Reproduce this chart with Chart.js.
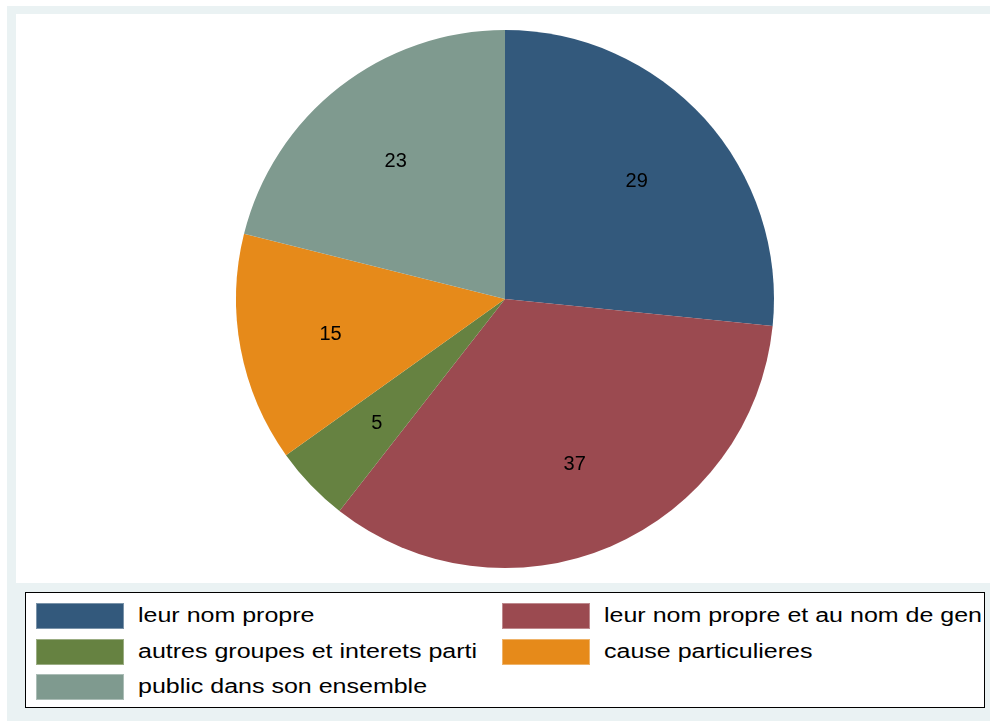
<!DOCTYPE html>
<html><head><meta charset="utf-8">
<script src="https://cdn.jsdelivr.net/npm/chart.js@4/dist/chart.umd.min.js"></script>
<style>
html,body{margin:0;padding:0;background:#fff;width:990px;height:721px;overflow:hidden;font-family:"Liberation Sans",Arial,sans-serif;}
#outer{position:absolute;left:7px;top:6px;width:983px;height:715px;background:#EAF2F3;}
#plot{position:absolute;left:16px;top:14px;width:974px;height:569px;background:#fff;}
#legend{position:absolute;left:25px;top:592px;width:958px;height:114px;background:#fff;border:1px solid #000;overflow:hidden;}
.item{position:absolute;height:27px;display:flex;align-items:center;white-space:nowrap;font-size:20px;color:#000;}
.sw{width:88px;height:26px;margin-right:14px;box-sizing:border-box;border:1px solid rgba(255,255,255,0.35);flex:none;}
.item span{display:inline-block;transform:scaleX(1.25);transform-origin:left center;}
</style></head>
<body>
<div id="outer"></div>
<div id="plot"><canvas id="c" width="974" height="569"></canvas></div>
<div id="legend"></div>
<script>
const categories = ["leur nom propre","leur nom propre et au nom de gen","autres groupes et interets parti","cause particulieres","public dans son ensemble"];
const values = [29, 37, 5, 15, 23];
const colors = ["#33597C","#9B4A50","#668241","#E68A1A","#7F9A8F"];

const sliceLabels = {
  id:'sliceLabels',
  afterDatasetsDraw(chart){
    const ctx = chart.ctx;
    const meta = chart.getDatasetMeta(0);
    ctx.save();
    ctx.font = '20px "Liberation Sans", Arial, sans-serif';
    ctx.fillStyle = '#000';
    ctx.textAlign = 'center';
    ctx.textBaseline = 'middle';
    meta.data.forEach((arc,i)=>{
      const p = arc.getProps(['x','y','startAngle','endAngle','outerRadius'], true);
      const mid = (p.startAngle + p.endAngle)/2;
      const r = p.outerRadius*0.66;
      ctx.fillText(String(chart.data.datasets[0].data[i]), p.x + Math.cos(mid)*r, p.y + Math.sin(mid)*r + 2);
    });
    ctx.restore();
  }
};

const chart = new Chart(document.getElementById('c'), {
  type:'pie',
  data:{labels:categories, datasets:[{data:values, backgroundColor:colors, borderWidth:0}]},
  options:{
    responsive:false, animation:false,
    layout:{padding:{top:16,bottom:15,left:4,right:0}},
    plugins:{legend:{display:false}, tooltip:{enabled:false}}
  },
  plugins:[sliceLabels]
});

// legend built from the chart data
const lg = document.getElementById('legend');
const pos = [[10,9],[476,9],[10,45],[476,45],[10,80]];
categories.forEach((c,i)=>{
  const d = document.createElement('div');
  d.className='item';
  d.style.left = pos[i][0]+'px'; d.style.top = pos[i][1]+'px';
  const s = document.createElement('div'); s.className='sw'; s.style.background = colors[i];
  const t = document.createElement('span'); t.textContent = c;
  d.appendChild(s); d.appendChild(t); lg.appendChild(d);
});
</script>
</body></html>
